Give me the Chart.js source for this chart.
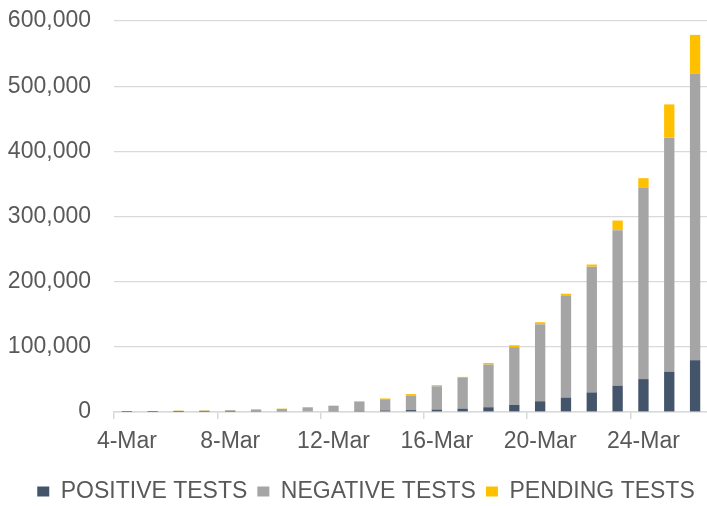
<!DOCTYPE html>
<html>
<head>
<meta charset="utf-8">
<script src="https://cdn.jsdelivr.net/npm/chart.js@4/dist/chart.umd.min.js"></script>
<style>
html,body{margin:0;padding:0;background:#fff;overflow:hidden;width:707px;height:506px;}
#wrap{position:absolute;left:0;top:0;width:710px;height:513px;}
</style>
</head>
<body>
<div id="wrap"><canvas id="c"></canvas></div>
<script>
const categories = ['4-Mar','5-Mar','6-Mar','7-Mar','8-Mar','9-Mar','10-Mar','11-Mar','12-Mar','13-Mar','14-Mar','15-Mar','16-Mar','17-Mar','18-Mar','19-Mar','20-Mar','21-Mar','22-Mar','23-Mar','24-Mar','25-Mar','26-Mar'];
const positiveTests = [120, 180, 220, 340, 420, 580, 780, 1050, 1300, 1900, 2450, 3000, 3800, 5200, 7300, 11000, 16500, 22000, 30000, 40500, 50500, 62000, 79500];
const negativeTests = [750, 950, 1550, 1800, 2300, 3350, 3950, 6000, 7950, 13600, 17100, 22300, 35700, 47000, 65500, 88500, 118000, 156000, 193000, 238500, 293500, 359000, 439500];
const pendingTests  = [100, 200, 450, 600, 350, 310, 470, 560, 670, 1130, 1240, 2200, 1700, 1700, 2500, 3000, 3300, 3500, 3300, 14800, 14800, 51000, 59700];
const yTicks = [0, 100000, 200000, 300000, 400000, 500000, 600000];
const seriesNames = ['POSITIVE TESTS', 'NEGATIVE TESTS', 'PENDING TESTS'];
const seriesColors = ['#44546A', '#A5A5A5', '#FFC000'];

const FONT = {family: 'Liberation Sans, Arial, sans-serif', size: 23};
const TXT = '#595959';

const legendShift = {
  id: 'legendShift',
  afterLayout(chart) {
    if (chart.legend) { chart.legend.left += 12; chart.legend.right += 12; }
  }
};

new Chart(document.getElementById('c'), {
  type: 'bar',
  data: {
    labels: categories,
    datasets: [positiveTests, negativeTests, pendingTests].map((d, i) => ({
      label: seriesNames[i],
      data: d,
      backgroundColor: seriesColors[i],
      borderWidth: 0,
      categoryPercentage: 1,
      barPercentage: 0.4
    }))
  },
  plugins: [legendShift],
  options: {
    responsive: true,
    maintainAspectRatio: false,
    animation: false,
    layout: {padding: {top: 21, right: 2, left: 0, bottom: 0}},
    plugins: {
      tooltip: {enabled: false},
      legend: {
        position: 'bottom',
        labels: {
          font: FONT,
          color: TXT,
          boxWidth: 12,
          boxHeight: 10,
          padding: 10
        }
      }
    },
    scales: {
      x: {
        stacked: true,
        afterFit: s => { s.height = 58; },
        border: {display: true, color: '#d9d9d9', width: 1.5},
        grid: {
          drawOnChartArea: false,
          drawTicks: true,
          tickLength: 7,
          offset: true,
          color: c => (c.index % 4 === 0 ? '#d9d9d9' : 'rgba(0,0,0,0)'),
          lineWidth: 1.5
        },
        ticks: {
          autoSkip: false,
          maxRotation: 0,
          minRotation: 0,
          font: FONT,
          color: TXT,
          padding: 9,
          callback: function(v, i) { return i % 4 === 0 ? categories[i] : ''; }
        }
      },
      y: {
        stacked: true,
        min: yTicks[0],
        max: yTicks[yTicks.length - 1],
        afterFit: s => { s.width = 114; },
        afterBuildTicks: s => { s.ticks = yTicks.map(v => ({value: v})); },
        border: {display: false},
        grid: {color: '#d9d9d9', lineWidth: 1.2, drawTicks: true, tickLength: 23, tickColor: 'rgba(0,0,0,0)'},
        ticks: {
          font: FONT,
          color: TXT,
          padding: 0,
          callback: v => Number(v).toLocaleString('en-US')
        }
      }
    }
  }
});
</script>
</body>
</html>
